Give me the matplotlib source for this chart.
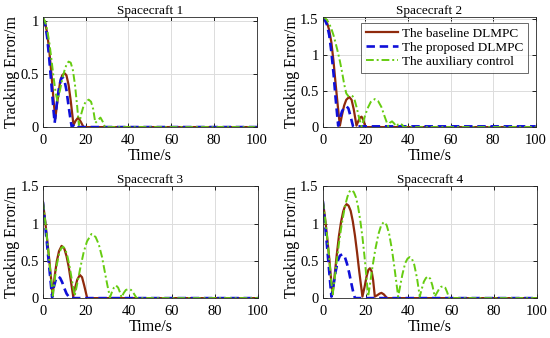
#!/usr/bin/env python3
# -*- coding: utf-8 -*-

"""
Tracking error of four spacecraft under three controllers (2x2 panels).
Values are read off the reference figure by eye.
"""

import matplotlib
matplotlib.use("Agg")
import matplotlib.pyplot as plt
from matplotlib.ticker import FormatStrFormatter

# ====== Data (time in s, error in m) ======
TITLES = ["Spacecraft 1", "Spacecraft 2", "Spacecraft 3", "Spacecraft 4"]
LABELS = ["The baseline DLMPC", "The proposed DLMPC", "The auxiliary control"]

# --- Spacecraft 1 ---
SC1_BASE_T = [0, 1, 2, 3, 4, 5, 5.8, 6.8, 8, 9, 10.1, 11, 12, 13, 14.3, 15.3, 16.5, 17.7, 19, 100]
SC1_BASE_E = [1.03, 0.99, 0.89, 0.72, 0.5, 0.25, 0.08, 0.25, 0.42, 0.49, 0.51, 0.49, 0.4, 0.25, 0.02,
              0.06, 0.09, 0.05, 0.0, 0.0]
SC1_PROP_T = [0, 1, 2, 3, 4, 5, 5.5, 6.5, 7.5, 8.5, 9.2, 10, 11, 12, 13, 13.5, 15, 16, 17, 100]
SC1_PROP_E = [1.03, 0.98, 0.85, 0.64, 0.4, 0.15, 0.04, 0.22, 0.37, 0.46, 0.47, 0.45, 0.35, 0.2, 0.06,
              0.0, 0.03, 0.02, 0.0, 0.0]
SC1_AUX_T = [0, 1, 2, 3, 4, 5, 6, 6.8, 8, 9, 10, 11, 12, 13, 14, 15, 16, 16.8,
             18, 19, 20, 21.4, 22.5, 23.5, 24.5, 25.5, 26.9, 28, 29, 100]
SC1_AUX_E = [1.04, 1.0, 0.92, 0.8, 0.64, 0.47, 0.32, 0.25, 0.35, 0.45, 0.53, 0.59, 0.62, 0.61, 0.54, 0.4, 0.2, 0.02,
             0.13, 0.2, 0.24, 0.26, 0.24, 0.17, 0.04, 0.06, 0.09, 0.05, 0.0, 0.0]

# --- Spacecraft 2 ---
SC2_BASE_T = [0, 1, 2, 3, 4, 5, 6, 7, 8, 9, 10, 11, 12.4, 13.5, 14.5, 15.8, 16.6, 17.4, 18.2, 19, 20, 100]
SC2_BASE_E = [1.52, 1.5, 1.45, 1.35, 1.18, 0.92, 0.6, 0.3, 0.02, 0.17, 0.3, 0.38, 0.42, 0.38, 0.25, 0.02,
              0.08, 0.13, 0.145, 0.1, 0.0, 0.0]
SC2_PROP_T = [0, 1, 2, 3, 4, 5, 6, 7.2, 8, 9, 10, 11.1, 12, 13, 14.2, 15, 100]
SC2_PROP_E = [1.52, 1.49, 1.42, 1.28, 1.05, 0.75, 0.4, 0.02, 0.12, 0.22, 0.27, 0.29, 0.26, 0.15, 0.01, 0.01, 0.01]
SC2_AUX_T = [0, 1, 2, 3, 4, 5, 6, 7, 8, 9, 10, 11, 12, 13, 14, 15, 16, 17, 18.2,
             19.5, 21, 22.5, 24.4, 26, 27.5, 29, 30.7,
             31.5, 32.5, 33.5, 34.5, 35.5, 36.4, 37.3, 38, 100]
SC2_AUX_E = [1.53, 1.52, 1.49, 1.44, 1.37, 1.28, 1.17, 1.05, 0.92, 0.77, 0.6, 0.47, 0.43, 0.44, 0.43, 0.37, 0.26,
             0.13, 0.01, 0.13, 0.26, 0.35, 0.39, 0.36, 0.28, 0.15, 0.01,
             0.06, 0.08, 0.05, 0.01, 0.04, 0.05, 0.03, 0.0, 0.0]

# --- Spacecraft 3 ---
SC3_BASE_T = [0, 1, 2, 3, 4, 4.5, 5.5, 6.5, 7.5, 8.7, 10, 11, 12, 13, 14.1,
              15, 16, 17.2, 18.2, 19.2, 20.6, 100]
SC3_BASE_E = [1.29, 1.05, 0.78, 0.5, 0.2, 0.03, 0.3, 0.5, 0.63, 0.70, 0.66, 0.56, 0.42, 0.23, 0.02,
              0.14, 0.25, 0.31, 0.28, 0.17, 0.0, 0.0]
SC3_PROP_T = [0, 1, 2, 3, 4, 4.3, 5, 6, 7.1, 8, 9, 10, 11, 12.5, 100]
SC3_PROP_E = [1.29, 1.0, 0.7, 0.4, 0.1, 0.01, 0.14, 0.25, 0.29, 0.27, 0.21, 0.13, 0.06, 0.0, 0.0]
SC3_AUX_T = [0, 1, 2, 3, 4, 4.6, 5.5, 6.5, 7.5, 8.5, 9.4, 10.5, 11.5, 12.5, 13.5, 14.8,
             16, 17.5, 19, 20.5, 22.6, 24.5, 26, 27.5, 29, 30, 31.2,
             32.2, 33, 34, 35, 35.8, 36.6, 37.6, 38.6, 39.7, 41, 42.3, 43.6, 100]
SC3_AUX_E = [1.29, 1.05, 0.78, 0.5, 0.2, 0.03, 0.25, 0.45, 0.59, 0.67, 0.69, 0.65, 0.55, 0.41, 0.24, 0.03,
             0.2, 0.42, 0.62, 0.76, 0.86, 0.82, 0.72, 0.55, 0.32, 0.17, 0.01,
             0.09, 0.14, 0.17, 0.14, 0.08, 0.01, 0.07, 0.11, 0.12, 0.11, 0.06, 0.0, 0.0]

# --- Spacecraft 4 ---
SC4_BASE_T = [0, 1, 2, 3, 4, 4.5, 5.5, 6.5, 7.5, 8.5, 9.5, 10.3, 11.1, 12, 13, 14, 15, 16, 17, 18.5,
              19.5, 20.5, 21.3, 22, 22.8, 23.5, 24.3, 25.5, 26.5, 27.4, 28.5, 30, 100]
SC4_BASE_E = [1.30, 1.08, 0.82, 0.53, 0.2, 0.05, 0.3, 0.58, 0.83, 1.02, 1.16, 1.23, 1.26, 1.24, 1.17, 1.03,
              0.84, 0.61, 0.36, 0.02, 0.15, 0.3, 0.38, 0.40, 0.36, 0.24, 0.02, 0.04, 0.06, 0.07, 0.05, 0.0, 0.0]
SC4_PROP_T = [0, 1, 2, 3, 4, 5, 6, 7, 8, 9.2, 10.3, 11.3, 12.3, 13.3, 14.2, 15, 100]
SC4_PROP_E = [1.30, 1.0, 0.68, 0.35, 0.02, 0.18, 0.36, 0.5, 0.57, 0.59, 0.55, 0.46, 0.34, 0.2, 0.08, 0.0, 0.0]
SC4_AUX_T = [0, 1, 2, 3, 4, 4.6, 5.5, 6.5, 7.5, 8.5, 9.5, 10.5, 11.5, 12.5, 13.4, 14.5, 15.5, 16.5, 17.5,
             18.5, 19.5, 20.3, 21.2,
             22.2, 23.2, 24.5, 26, 27.3, 28.5, 29.8, 31, 32.3, 33.5, 34.4, 35.2,
             36.2, 37.2, 38.5, 39.6, 40.6, 41.6, 42.7, 44, 45.3,
             46.2, 47.2, 48.2, 49.2, 50.2, 51.2, 52.3,
             53.3, 54.3, 55.2, 56.2, 57.2, 58.1, 59, 100]
SC4_AUX_E = [1.30, 1.08, 0.82, 0.53, 0.2, 0.05, 0.25, 0.5, 0.73, 0.93, 1.1, 1.25, 1.36, 1.43, 1.45, 1.42, 1.35,
             1.22, 1.04, 0.82, 0.55, 0.3, 0.02,
             0.22, 0.42, 0.65, 0.86, 0.98, 1.02, 0.98, 0.86, 0.65, 0.4, 0.2, 0.02,
             0.17, 0.32, 0.47, 0.53, 0.55, 0.53, 0.45, 0.27, 0.02,
             0.12, 0.22, 0.27, 0.29, 0.26, 0.17, 0.02,
             0.07, 0.12, 0.15, 0.16, 0.14, 0.08, 0.0, 0.0]

Y_TOPS = [1.04, 1.53, 1.5, 1.5]
Y_TICKS = [[0, 0.5, 1], [0, 0.5, 1, 1.5], [0, 0.5, 1, 1.5], [0, 0.5, 1, 1.5]]
X_TICKS = [0, 20, 40, 60, 80, 100]
# =================================

# line styles: baseline / proposed / auxiliary
STYLES = [
    dict(color="#8f2a0c", linestyle="-", linewidth=1.6),
    dict(color="#1010d8", linestyle=(0, (3.2, 1.8)), linewidth=1.9),
    dict(color="#66cc11", linestyle=(0, (4.0, 1.5, 1.0, 1.5)), linewidth=1.4),
]

# panel rectangles in figure fraction (left, bottom, width, height)
RECTS = [
    (0.078, 0.624, 0.389, 0.325),
    (0.587, 0.624, 0.387, 0.325),
    (0.078, 0.118, 0.391, 0.331),
    (0.587, 0.118, 0.389, 0.331),
]


def draw_panel(ax, title, series, ytop, yticks, legend=False):
    for (t, e), style, label in zip(series, STYLES, LABELS):
        ax.plot(t, e, label=label, **style)
    ax.set_xlim(0, 100)
    ax.set_ylim(0, ytop)
    ax.set_xticks(X_TICKS)
    ax.set_yticks(yticks)
    ax.yaxis.set_major_formatter(FormatStrFormatter("%g"))
    ax.grid(True, color="#dcdcdc", linewidth=0.7)
    ax.set_axisbelow(True)
    ax.tick_params(direction="in", top=True, right=True, length=3, labelsize=10.5, width=0.6)
    ax.tick_params(axis="x", pad=5)
    ax.tick_params(axis="y", pad=3)
    for sp in ax.spines.values():
        sp.set_linewidth(0.6)
        sp.set_color("#262626")
    ax.set_title(title, fontsize=9.5, pad=2)
    ax.set_xlabel("Time/s", fontsize=11.5, labelpad=1)
    ax.set_ylabel("Tracking Error/m", fontsize=11.5, labelpad=0)
    if legend:
        leg = ax.legend(loc="upper right", bbox_to_anchor=(0.965, 0.95), fontsize=9.5,
                        frameon=True, fancybox=False, edgecolor="#262626",
                        handlelength=2.4, handletextpad=0.35, borderpad=0.35,
                        labelspacing=0.15, borderaxespad=0.0)
        leg.get_frame().set_linewidth(0.6)


def main():
    plt.rcParams["font.family"] = ["Liberation Serif", "DejaVu Serif"]
    fig = plt.figure(figsize=(5.5, 3.38), dpi=100)

    all_series = [
        [(SC1_BASE_T, SC1_BASE_E), (SC1_PROP_T, SC1_PROP_E), (SC1_AUX_T, SC1_AUX_E)],
        [(SC2_BASE_T, SC2_BASE_E), (SC2_PROP_T, SC2_PROP_E), (SC2_AUX_T, SC2_AUX_E)],
        [(SC3_BASE_T, SC3_BASE_E), (SC3_PROP_T, SC3_PROP_E), (SC3_AUX_T, SC3_AUX_E)],
        [(SC4_BASE_T, SC4_BASE_E), (SC4_PROP_T, SC4_PROP_E), (SC4_AUX_T, SC4_AUX_E)],
    ]

    for i in range(4):
        ax = fig.add_axes(RECTS[i])
        draw_panel(ax, TITLES[i], all_series[i], Y_TOPS[i], Y_TICKS[i], legend=(i == 1))

    fig.savefig("out.png", dpi=100)


if __name__ == "__main__":
    main()
